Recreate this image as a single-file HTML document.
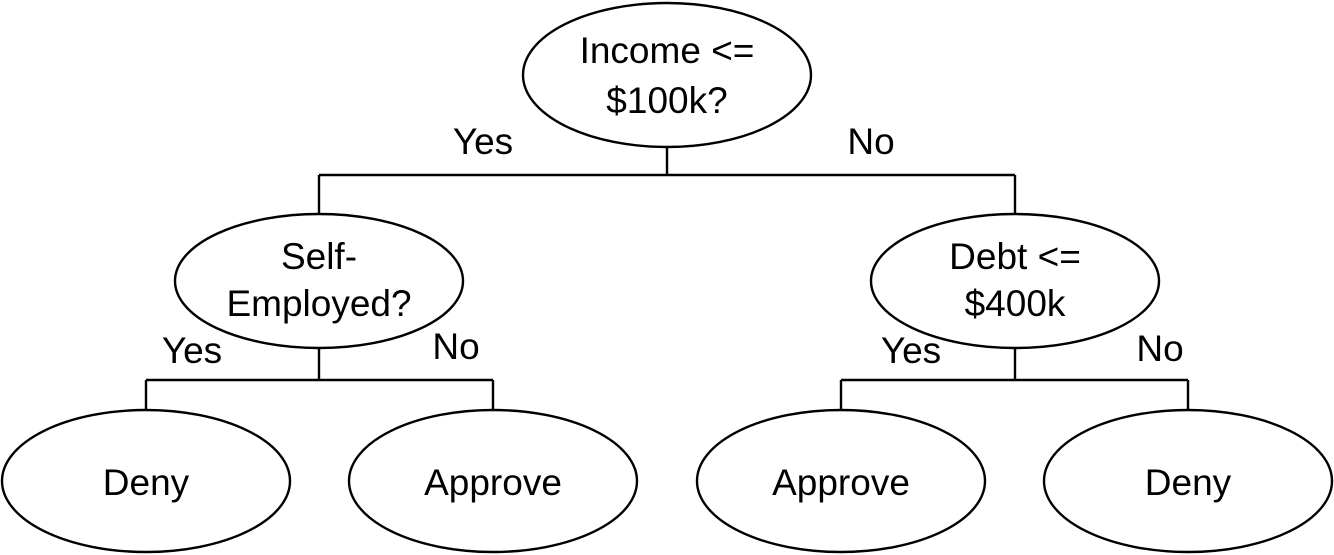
<!DOCTYPE html>
<html><head><meta charset="utf-8"><style>
html,body{margin:0;padding:0;background:#fff;}
svg{display:block;}
text{font-family:"Liberation Sans",sans-serif;font-size:37px;fill:#000;text-anchor:middle;}
</style></head><body>
<svg width="1334" height="555" viewBox="0 0 1334 555" xmlns="http://www.w3.org/2000/svg">
<g fill="#fff" stroke="#000" stroke-width="2.4">
<ellipse cx="667" cy="75" rx="144" ry="72"/>
<ellipse cx="319" cy="281" rx="144" ry="67"/>
<ellipse cx="1015" cy="281" rx="144" ry="67"/>
<ellipse cx="146" cy="481" rx="144" ry="71"/>
<ellipse cx="493" cy="481" rx="144" ry="71"/>
<ellipse cx="841" cy="481" rx="144" ry="71"/>
<ellipse cx="1188" cy="481" rx="144" ry="71"/>
</g>
<g fill="none" stroke="#000" stroke-width="2.4">
<path d="M667 147V175M319 175H1015M319 175V214M1015 175V214"/>
<path d="M319 348V380M146 380H493M146 380V410M493 380V410"/>
<path d="M1015 348V380M841 380H1188M841 380V410M1188 380V410"/>
</g>
<text x="667" y="63">Income &lt;=</text>
<text x="667" y="113">$100k?</text>
<text x="319" y="269">Self-</text>
<text x="319" y="316">Employed?</text>
<text x="1015" y="269">Debt &lt;=</text>
<text x="1015" y="316">$400k</text>
<text x="146" y="495">Deny</text>
<text x="493" y="495">Approve</text>
<text x="841" y="495">Approve</text>
<text x="1188" y="495">Deny</text>
<g style="font-size:30px">
<text x="483" y="154">Yes</text>
<text x="871" y="154">No</text>
<text x="192" y="363">Yes</text>
<text x="456" y="359">No</text>
<text x="911" y="363">Yes</text>
<text x="1160" y="361">No</text>
</g>
</svg>
</body></html>
